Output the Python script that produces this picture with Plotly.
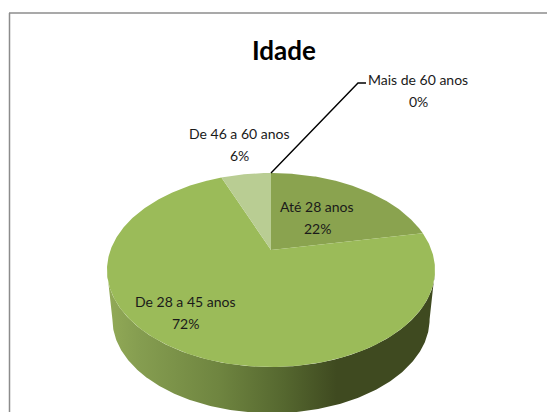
import numpy as np
import plotly.graph_objects as go

categories = ["Até 28 anos", "De 28 a 45 anos", "De 46 a 60 anos", "Mais de 60 anos"]
values = [22, 72, 6, 0]
percent_labels = ["22%", "72%", "6%", "0%"]
slice_colors = ["#8aa34f", "#9bbb59", "#b9cd93", "#c9d9ab"]
title_text = "Idade"

# Pie projection (perspective view of a circle, in page pixels)
CX, CY = 271.0, 250.0
R, S, K = 160.5, 92.9, 0.206
DEPTH, BASE_SCALE = 50.0, 0.967


def project(theta, scale=1.0, dy=0.0):
    u, v = np.sin(theta), np.cos(theta)
    d = 1 + K * v
    return CX + scale * R * u / d, CY + dy - scale * S * v / d


fig = go.Figure()

# Side wall: front half between the two widest points of the projected circle
t0 = np.arccos(-K)
theta = np.linspace(t0, 2 * np.pi - t0, 240)
xt, yt = project(theta)
xb, yb = project(theta, BASE_SCALE, DEPTH)
fig.add_trace(go.Scatter(
    x=np.r_[xt, xb[::-1]], y=np.r_[yt, yb[::-1]],
    mode="lines", line=dict(width=0), fill="toself", hoverinfo="skip",
    fillgradient=dict(
        type="horizontal",
        colorscale=[[0, "#92aa57"], [0.10, "#859d50"], [0.34, "#6f8540"],
                    [0.54, "#55672f"], [0.70, "#3f4a20"], [1, "#3f4a20"]],
    ),
))

# Top slices
total = sum(values)
start = 0.0
for cat, val, col in zip(categories, values, slice_colors):
    if val > 0:
        end = start + val / total * 2 * np.pi
        t = np.linspace(start, end, max(3, int(val * 6)))
        x, y = project(t)
        fig.add_trace(go.Scatter(
            x=np.r_[CX, x, CX], y=np.r_[CY, y, CY], name=cat,
            mode="lines", line=dict(width=0), fill="toself", fillcolor=col,
            hoverinfo="name",
        ))
        start = end

# Leader line to the zero slice
fig.add_trace(go.Scatter(
    x=[271, 358, 366], y=[173, 83, 83], mode="lines",
    line=dict(color="#000000", width=1.4), hoverinfo="skip",
))

label_pos = {
    "Até 28 anos": (317, 217),
    "De 28 a 45 anos": (185, 312),
    "De 46 a 60 anos": (239, 144),
    "Mais de 60 anos": (418, 90),
}
annotations = []
for cat, pct in zip(categories, percent_labels):
    x, y = label_pos[cat]
    for text, off in ((cat, -11), (pct, 11)):
        annotations.append(dict(
            x=x, y=y + off, xref="x", yref="y", text=text, showarrow=False,
            font=dict(family="Lato", size=14, color="#1a1a1a"),
            xanchor="center", yanchor="middle",
        ))
annotations.append(dict(
    x=284, y=50, xref="x", yref="y", text=f"<b>{title_text}</b>", showarrow=False,
    font=dict(family="Lato", size=26, color="#000000"),
    xanchor="center", yanchor="middle",
))

shapes = [
    dict(type="line", x0=9.5, x1=9.5, y0=13, y1=412, xref="x", yref="y",
         line=dict(color="#8c8c8c", width=1.5)),
    dict(type="line", x0=9, x1=547, y0=13, y1=13, xref="x", yref="y",
         line=dict(color="#8c8c8c", width=1.5)),
]

fig.update_layout(
    width=547, height=412, margin=dict(l=0, r=0, t=0, b=0),
    paper_bgcolor="#ffffff", plot_bgcolor="#ffffff", showlegend=False,
    xaxis=dict(range=[0, 547], visible=False, fixedrange=True),
    yaxis=dict(range=[412, 0], visible=False, fixedrange=True),
    annotations=annotations, shapes=shapes,
)
fig.write_html("out.html", post_script="document.body.style.margin='0';", config={"displayModeBar": False})
